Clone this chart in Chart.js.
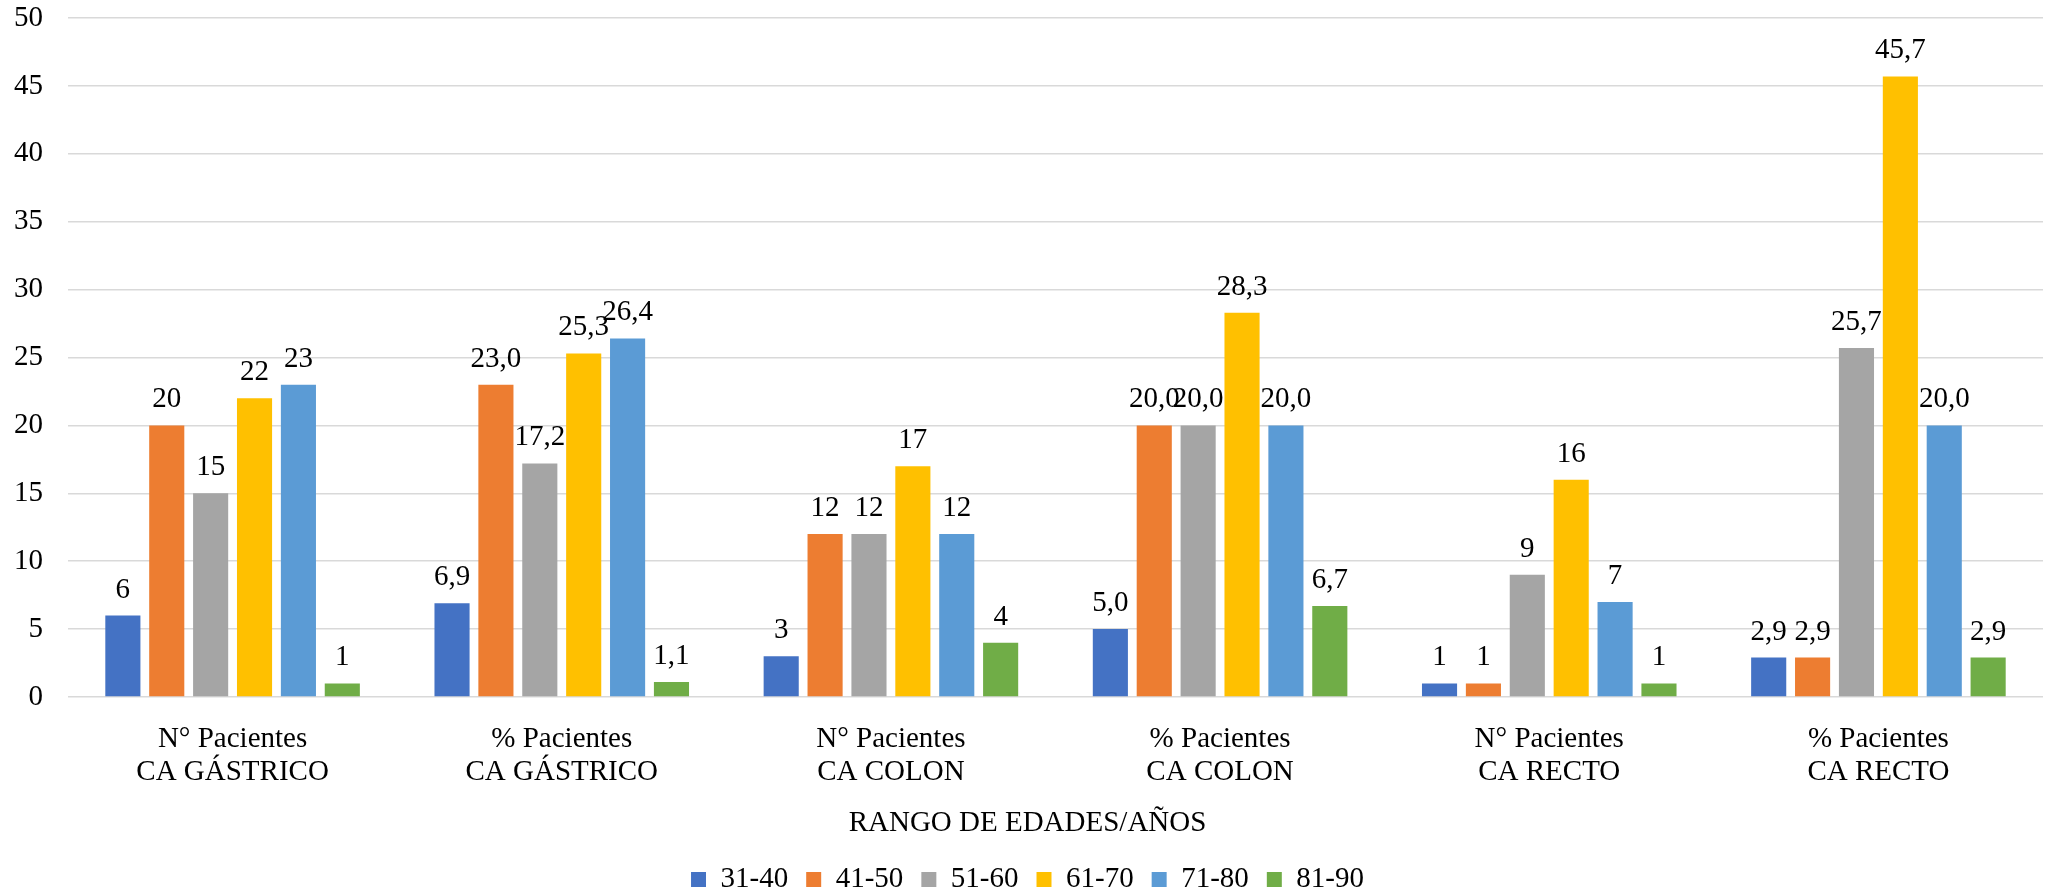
<!DOCTYPE html>
<html>
<head>
<meta charset="utf-8">
<script src="https://cdn.jsdelivr.net/npm/chart.js@4/dist/chart.umd.min.js"></script>
<style>
  html, body { margin: 0; padding: 0; background: #fff; }
  #chart { display: block; }
</style>
</head>
<body>
<canvas id="chart" width="2054" height="892"></canvas>
<script>
// categorias (eje x), dos lineas por etiqueta
const categories = [
  ["N° Pacientes", "CA GÁSTRICO"],
  ["% Pacientes", "CA GÁSTRICO"],
  ["N° Pacientes", "CA COLON"],
  ["% Pacientes", "CA COLON"],
  ["N° Pacientes", "CA RECTO"],
  ["% Pacientes", "CA RECTO"]
];
// decimales de la etiqueta por categoria (N° = entero, % = 1 decimal)
const labelDecimals = [0, 1, 0, 1, 0, 1];

const ageRanges = ["31-40", "41-50", "51-60", "61-70", "71-80", "81-90"];

const age31_40 = [6, 6.9, 3, 5.0, 1, 2.9];
const age41_50 = [20, 23.0, 12, 20.0, 1, 2.9];
const age51_60 = [15, 17.2, 12, 20.0, 9, 25.7];
const age61_70 = [22, 25.3, 17, 28.3, 16, 45.7];
const age71_80 = [23, 26.4, 12, 20.0, 7, 20.0];
const age81_90 = [1, 1.1, 4, 6.7, 1, 2.9];

const seriesValues = [age31_40, age41_50, age51_60, age61_70, age71_80, age81_90];
const seriesColors = ["#4472C4", "#ED7D31", "#A5A5A5", "#FFC000", "#5B9BD5", "#70AD47"];

const FONT = '"Liberation Serif", "Times New Roman", serif';
const FS = 29;

function fmt(v, dec) {
  return v.toFixed(dec).replace(".", ",");
}

// etiquetas de valor encima de cada barra
const valueLabels = {
  id: "valueLabels",
  afterDatasetsDraw(chart) {
    const ctx = chart.ctx;
    ctx.save();
    ctx.font = FS + "px " + FONT;
    ctx.fillStyle = "#000";
    ctx.textAlign = "center";
    ctx.textBaseline = "alphabetic";
    chart.data.datasets.forEach((ds, di) => {
      const meta = chart.getDatasetMeta(di);
      meta.data.forEach((bar, i) => {
        ctx.fillText(fmt(ds.data[i], labelDecimals[i]), bar.x, bar.y - 18);
      });
    });
    ctx.restore();
  }
};

const ctx = document.getElementById("chart").getContext("2d");

new Chart(ctx, {
  type: "bar",
  data: {
    labels: categories,
    datasets: ageRanges.map((name, i) => ({
      label: name,
      data: seriesValues[i],
      backgroundColor: seriesColors[i],
      borderWidth: 0,
      categoryPercentage: 0.8,
      barPercentage: 0.8
    }))
  },
  options: {
    responsive: false,
    animation: false,
    layout: { padding: { top: 18, right: 11, left: 12, bottom: -12 } },
    plugins: {
      // titulo del eje x, entre los ticks y la leyenda
      title: {
        display: true,
        position: "bottom",
        weight: 500,
        text: "RANGO DE EDADES/AÑOS",
        color: "#000",
        font: { family: FONT, size: FS, weight: "normal", lineHeight: 1.2 },
        padding: { top: 8.6, bottom: 6.6 }
      },
      legend: {
        position: "bottom",
        labels: {
          font: { family: FONT, size: FS },
          color: "#000",
          boxWidth: 15,
          boxHeight: 15,
          padding: 18
        }
      },
      tooltip: { enabled: false }
    },
    scales: {
      x: {
        grid: { display: false },
        border: { display: false },
        ticks: {
          color: "#000",
          font: { family: FONT, size: FS, lineHeight: 1.14 },
          padding: 18,
          maxRotation: 0
        },
        afterFit: (scale) => { scale.height = 100; }
      },
      y: {
        min: 0,
        max: 50,
        ticks: {
          stepSize: 5,
          color: "#000",
          font: { family: FONT, size: FS },
          padding: 25
        },
        grid: { color: "#D9D9D9", lineWidth: 1.5, drawTicks: false },
        border: { display: false },
        afterFit: (scale) => {
          scale.width = 56;
          scale.paddingTop = 0;
          scale.paddingBottom = 0;
        }
      }
    }
  },
  plugins: [valueLabels]
});
</script>
</body>
</html>
